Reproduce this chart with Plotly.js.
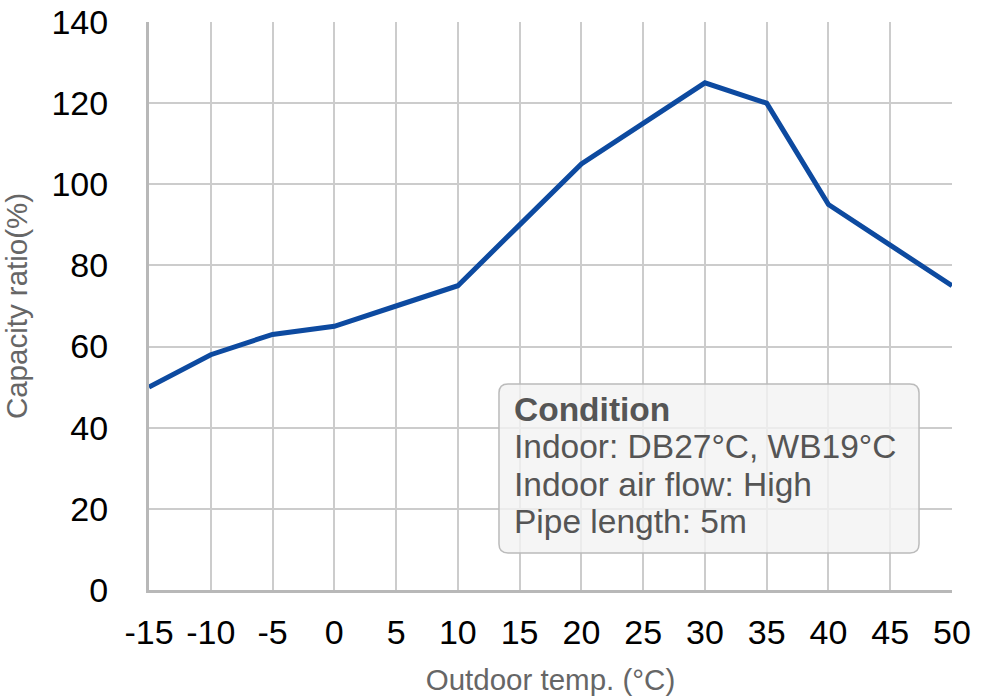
<!DOCTYPE html>
<html>
<head>
<meta charset="utf-8">
<script src="https://cdn.plot.ly/plotly-3.0.1.min.js"></script>
<style>html,body{margin:0;padding:0;background:#fff;}#chart{width:990px;height:699px;}</style>
</head>
<body>
<div id="chart"></div>
<script>
const temps = [-15, -10, -5, 0, 5, 10, 15, 20, 25, 30, 35, 40, 45, 50];
const capacity = [50, 58, 63, 65, 70, 75, 90, 105, 115, 125, 120, 95, 85, 75];
const xTickVals = [-15, -10, -5, 0, 5, 10, 15, 20, 25, 30, 35, 40, 45, 50];
const yTickVals = [0, 20, 40, 60, 80, 100, 120, 140];
const conditionTitle = "Condition";
const conditionLines = ["Indoor: DB27°C, WB19°C", "Indoor air flow: High", "Pipe length: 5m"];

const FONT = "Liberation Sans, Arial, Helvetica, sans-serif";

// box in data coords
const bx0 = 13.33, bx1 = 47.33, by0 = 9.13, by1 = 50.8;
const rx = 0.73, ry = 2.2;
const boxPath = `M ${bx0+rx},${by1} L ${bx1-rx},${by1} Q ${bx1},${by1} ${bx1},${by1-ry} ` +
  `L ${bx1},${by0+ry} Q ${bx1},${by0} ${bx1-rx},${by0} L ${bx0+rx},${by0} ` +
  `Q ${bx0},${by0} ${bx0},${by0+ry} L ${bx0},${by1-ry} Q ${bx0},${by1} ${bx0+rx},${by1} Z`;

const textX = 14.4;
const lineYs = [44.4, 35.3, 25.9, 17.0];
const annTexts = ["<b>" + conditionTitle + "</b>"].concat(conditionLines);
const annotations = annTexts.map((t, i) => ({
  x: textX, y: lineYs[i], xref: 'x', yref: 'y',
  xanchor: 'left', yanchor: 'middle', showarrow: false, align: 'left',
  text: t, font: {family: FONT, size: 33.5, color: '#555555'}
}));

const trace = {
  x: temps, y: capacity, type: 'scatter', mode: 'lines',
  line: {color: '#0d4aa0', width: 5}, cliponaxis: false, hoverinfo: 'skip'
};

const layout = {
  width: 990, height: 699,
  margin: {l: 149, r: 38, t: 22, b: 109},
  paper_bgcolor: '#ffffff', plot_bgcolor: '#ffffff',
  showlegend: false,
  xaxis: {
    range: [-15, 50], tickvals: xTickVals, ticktext: xTickVals.map(String),
    showgrid: true, gridcolor: '#cccccc', gridwidth: 2,
    zeroline: false, showline: true, linecolor: '#b8b8b8', linewidth: 3,
    ticks: '', ticklabelstandoff: 10,
    tickfont: {family: FONT, size: 34, color: '#000000'},
    title: {text: 'Outdoor temp. (°C)', font: {family: FONT, size: 29.5, color: '#666666'}, standoff: 20},
    fixedrange: true
  },
  yaxis: {
    range: [0, 140], tickvals: yTickVals, ticktext: yTickVals.map(String),
    showgrid: true, gridcolor: '#cccccc', gridwidth: 2,
    zeroline: false, showline: true, linecolor: '#b8b8b8', linewidth: 3,
    ticks: '', ticklabelstandoff: 31,
    tickfont: {family: FONT, size: 34, color: '#000000'},
    title: {text: 'Capacity ratio(%)', font: {family: FONT, size: 29.5, color: '#666666'}, standoff: 21},
    fixedrange: true
  },
  shapes: [{
    type: 'path', xref: 'x', yref: 'y', path: boxPath, layer: 'above',
    fillcolor: 'rgba(242,242,242,0.8)', line: {color: '#bbbbbb', width: 1.5}
  }],
  annotations: annotations
};

Plotly.newPlot('chart', [trace], layout, {displayModeBar: false, staticPlot: true});
</script>
</body>
</html>
